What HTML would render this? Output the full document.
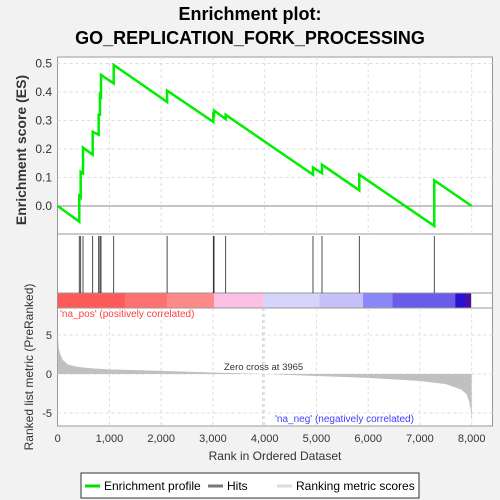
<!DOCTYPE html>
<html><head><meta charset="utf-8"><style>
body{margin:0;background:#f2f2f2;}
svg{display:block;font-family:"Liberation Sans",sans-serif;}
</style></head><body>
<svg id="c" width="500" height="500">
<text x="250" y="20" text-anchor="middle" font-size="18" font-weight="bold">Enrichment plot:</text>
<text x="250" y="44" text-anchor="middle" font-size="18" font-weight="bold">GO_REPLICATION_FORK_PROCESSING</text>
<rect x="57.5" y="57" width="435" height="369" fill="#fff" stroke="#999"/>
<line x1="57.5" y1="234" x2="492.5" y2="234" stroke="#999"/>
<line x1="57.5" y1="293" x2="492.5" y2="293" stroke="#999"/>
<line x1="57.5" y1="308" x2="492.5" y2="308" stroke="#999"/>
<g id="grid"></g><g id="bar"></g><g id="hits"></g><g id="metric"></g><g id="es"></g><g id="axes"></g>
<text x="60" y="317" font-size="10" fill="#ff4040">'na_pos' (positively correlated)</text>
<text x="275" y="422" font-size="10" fill="#4040ff">'na_neg' (negatively correlated)</text>
<text x="224" y="370" font-size="9.5" fill="#333">Zero cross at 3965</text>
<text x="26" y="150" font-size="14" font-weight="bold" fill="#333" text-anchor="middle" transform="rotate(-90 26 150)">Enrichment score (ES)</text>
<text x="33" y="367" font-size="12" fill="#333" text-anchor="middle" transform="rotate(-90 33 367)">Ranked list metric (PreRanked)</text>
<text x="275" y="460" font-size="12" fill="#333" text-anchor="middle">Rank in Ordered Dataset</text>
<g>
<rect x="81" y="473" width="338" height="25" fill="#fff" stroke="#333"/>
<line x1="85" y1="486" x2="100" y2="486" stroke="#00e000" stroke-width="3"/>
<text x="104" y="490" font-size="12">Enrichment profile</text>
<line x1="208" y1="486" x2="223" y2="486" stroke="#777" stroke-width="3"/>
<text x="227" y="490" font-size="12">Hits</text>
<line x1="277" y1="486" x2="292" y2="486" stroke="#ddd" stroke-width="3"/>
<text x="296" y="490" font-size="12">Ranking metric scores</text>
</g>
</svg>
<script>
const hitRanks=[417,444,489,676,792,817,837,1082,2114,3007,3021,3246,4933,5107,5828,7277];
const esBefore=[-0.055,0.03,0.115,0.18,0.25,0.32,0.385,0.43,0.365,0.295,0.31,0.305,0.11,0.115,0.055,-0.07];
const esAfter=[0.035,0.12,0.205,0.26,0.32,0.39,0.46,0.495,0.405,0.33,0.335,0.32,0.135,0.145,0.11,0.09];
const metricRanks=[0,20,50,100,200,400,700,1000,2000,3000,3965,5000,6000,7000,7500,7800,7900,7950,7980,7999];
const metricVals=[5.2,3.3,2.5,1.8,1.2,0.9,0.7,0.6,0.4,0.2,0,-0.25,-0.5,-0.9,-1.3,-2,-2.6,-3.5,-4.6,-6];
const barStops=[0,1300,2120,3020,3975,5060,5900,6470,7680,7880,7990];
const barColors=["#ff5a5a","#ff7070","#ff8888","#fcc0e4","#d6d4fa","#c6c0f8","#8a88f8","#6a5ce8","#2a10d0","#4a10a0"];
const xTicks=[0,1000,2000,3000,4000,5000,6000,7000,8000];
const esTicks=[0,0.1,0.2,0.3,0.4,0.5];
const mTicks=[-5,0,5];
const N=7999;
const X=r=>57.7+r*0.05175;
const YE=v=>206-v*285;
const YM=v=>374-v*7.8;
const ns="http://www.w3.org/2000/svg";
function mk(p,t,a){const e=document.createElementNS(ns,t);for(const k in a)e.setAttribute(k,a[k]);document.getElementById(p).appendChild(e);return e;}
xTicks.forEach(t=>{if(t>0){const l=mk('grid','line',{x1:X(t),x2:X(t),y1:57,y2:234,stroke:'#ddd','stroke-dasharray':'3,3'});


mk('grid','line',{x1:X(t),x2:X(t),y1:308,y2:426,stroke:'#ddd','stroke-dasharray':'3,3'});}
const tx=mk('axes','text',{x:X(t),y:442,'font-size':11,'text-anchor':'middle',fill:'#333'});tx.textContent=t.toLocaleString('en-US');

});
esTicks.forEach(t=>{mk('grid','line',{x1:57.5,x2:492.5,y1:YE(t),y2:YE(t),stroke:t==0?'#888':'#ddd','stroke-dasharray':t==0?'':'3,3'});
const tx=mk('axes','text',{x:52,y:YE(t)+4,'font-size':12,'text-anchor':'end',fill:'#333'});tx.textContent=t.toFixed(1);

});
mTicks.forEach(t=>{mk('grid','line',{x1:57.5,x2:492.5,y1:YM(t),y2:YM(t),stroke:'#ddd','stroke-dasharray':'3,3'});
const tx=mk('axes','text',{x:52,y:YM(t)+4,'font-size':11,'text-anchor':'end',fill:'#333'});tx.textContent=t;

});
for(let i=0;i<barColors.length;i++){const r=mk('bar','rect',{x:X(barStops[i]),y:293.5,width:X(barStops[i+1])-X(barStops[i]),height:14,fill:barColors[i]});

}
hitRanks.forEach(h=>{const l=mk('hits','line',{x1:X(h),x2:X(h),y1:236,y2:293,stroke:'#222','stroke-width':0.8});

});
let d='M'+X(0)+','+YM(0);metricRanks.forEach((r,i)=>d+=' L'+X(r)+','+YM(metricVals[i]));d+=' L'+X(N)+','+YM(0)+'Z';
const m=mk('metric','path',{d:d,fill:'#c0c0c0'});


mk('metric','line',{x1:X(3965),x2:X(3965),y1:308,y2:426,stroke:'#bbb','stroke-dasharray':'3,3'});
let p='M'+X(0)+','+YE(0);hitRanks.forEach((h,i)=>{p+=' L'+X(h)+','+YE(esBefore[i])+' L'+X(h)+','+YE(esAfter[i]);});p+=' L'+X(N)+','+YE(0);
const e=mk('es','path',{d:p,fill:'none',stroke:'#00ee00','stroke-width':2.5});


</script>
</body></html>
